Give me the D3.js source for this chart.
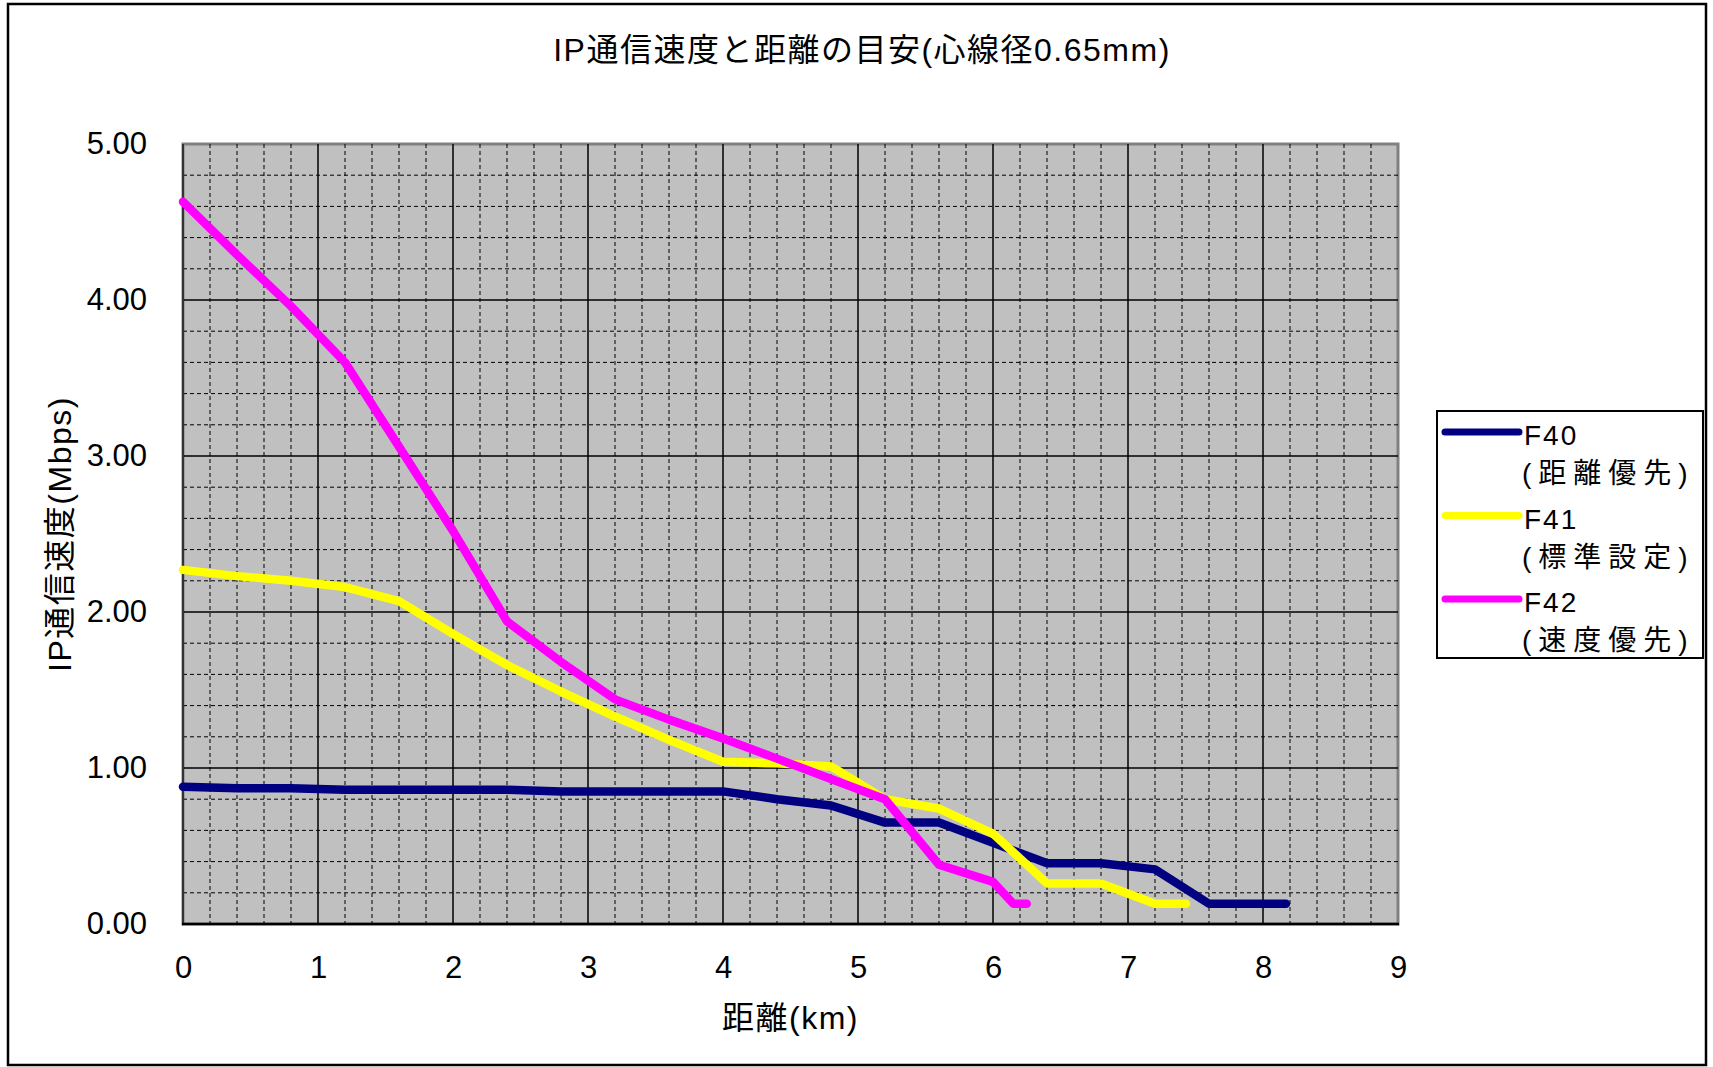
<!DOCTYPE html>
<html>
<head>
<meta charset="utf-8">
<script src="https://cdn.jsdelivr.net/npm/d3@7"></script>
<style>
  html, body { margin: 0; padding: 0; background: #fff; }
  svg { display: block; }
  text { font-family: "Liberation Sans", "Noto Sans CJK JP", sans-serif; fill: #000; }
</style>
</head>
<body>
<svg id="chart" width="1713" height="1067"></svg>
<script>
// ---- data ----
const chartTitle = "IP通信速度と距離の目安(心線径0.65mm)";
const xTitle = "距離(km)";
const yTitle = "IP通信速度(Mbps)";
const xTicks = [0, 1, 2, 3, 4, 5, 6, 7, 8, 9];
const yTicks = [0, 1, 2, 3, 4, 5];

const seriesNames = ["F40", "F41", "F42"];
const seriesSub = ["(距離優先)", "(標準設定)", "(速度優先)"];
const seriesColors = ["#000080", "#FFFF00", "#FF00FF"];

const f40Km = [0, 0.4, 0.8, 1.2, 1.6, 2.0, 2.4, 2.8, 3.2, 3.6, 4.0, 4.4, 4.8, 5.2, 5.6, 6.0, 6.4, 6.8, 7.2, 7.6, 8.17];
const f40Mbps = [0.88, 0.87, 0.87, 0.86, 0.86, 0.86, 0.86, 0.85, 0.85, 0.85, 0.85, 0.80, 0.76, 0.65, 0.65, 0.52, 0.39, 0.39, 0.35, 0.13, 0.13];

const f41Km = [0, 0.4, 0.8, 1.2, 1.6, 2.0, 2.4, 2.8, 3.2, 3.6, 4.0, 4.4, 4.8, 5.2, 5.6, 6.0, 6.4, 6.8, 7.2, 7.43];
const f41Mbps = [2.27, 2.23, 2.20, 2.16, 2.07, 1.86, 1.66, 1.49, 1.33, 1.18, 1.04, 1.03, 1.01, 0.80, 0.74, 0.58, 0.26, 0.26, 0.13, 0.13];

const f42Km = [0, 0.4, 0.8, 1.2, 1.6, 2.0, 2.4, 2.8, 3.2, 3.6, 4.0, 4.4, 4.8, 5.2, 5.6, 6.0, 6.15, 6.25];
const f42Mbps = [4.63, 4.29, 3.96, 3.60, 3.06, 2.52, 1.94, 1.68, 1.44, 1.31, 1.19, 1.06, 0.93, 0.80, 0.38, 0.27, 0.13, 0.13];

const seriesKm = [f40Km, f41Km, f42Km];
const seriesMbps = [f40Mbps, f41Mbps, f42Mbps];

// ---- layout ----
const svg = d3.select("#chart");
const plot = { left: 183, right: 1398, top: 144, bottom: 924 };

const x = d3.scaleLinear().domain([0, 9]).range([plot.left, plot.right]);
const y = d3.scaleLinear().domain([0, 5]).range([plot.bottom, plot.top]);

// outer border
svg.append("rect").attr("x", 8).attr("y", 4).attr("width", 1698).attr("height", 1061)
  .attr("fill", "#fff").attr("stroke", "#000").attr("stroke-width", 2.5);

// plot background
svg.append("rect").attr("x", plot.left).attr("y", plot.top)
  .attr("width", plot.right - plot.left).attr("height", plot.bottom - plot.top)
  .attr("fill", "#C0C0C0").attr("stroke", "#808080").attr("stroke-width", 3);

// minor grid
const minorX = d3.range(0, 9.001, 0.2).filter(v => Math.abs(v - Math.round(v)) > 1e-6);
const minorY = d3.range(0, 5.001, 0.2).filter(v => Math.abs(v - Math.round(v)) > 1e-6);
const grid = svg.append("g");
grid.selectAll("line.mx").data(minorX).enter().append("line")
  .attr("x1", d => x(d)).attr("x2", d => x(d)).attr("y1", plot.top).attr("y2", plot.bottom)
  .attr("stroke", "#000").attr("stroke-width", 1).attr("stroke-dasharray", "4,3");
grid.selectAll("line.my").data(minorY).enter().append("line")
  .attr("y1", d => y(d)).attr("y2", d => y(d)).attr("x1", plot.left).attr("x2", plot.right)
  .attr("stroke", "#000").attr("stroke-width", 1).attr("stroke-dasharray", "4,3");
// major grid
grid.selectAll("line.Mx").data(xTicks.slice(1, -1)).enter().append("line")
  .attr("x1", d => x(d)).attr("x2", d => x(d)).attr("y1", plot.top).attr("y2", plot.bottom)
  .attr("stroke", "#000").attr("stroke-width", 1.5);
grid.selectAll("line.My").data(yTicks.slice(1, -1)).enter().append("line")
  .attr("y1", d => y(d)).attr("y2", d => y(d)).attr("x1", plot.left).attr("x2", plot.right)
  .attr("stroke", "#000").attr("stroke-width", 1.5);

// axis lines
svg.append("line").attr("x1", plot.left).attr("x2", plot.left).attr("y1", plot.top).attr("y2", plot.bottom)
  .attr("stroke", "#333").attr("stroke-width", 2);
svg.append("line").attr("x1", plot.left - 1).attr("x2", plot.right + 1).attr("y1", plot.bottom).attr("y2", plot.bottom)
  .attr("stroke", "#000").attr("stroke-width", 2.5);

// axes
const xAxis = d3.axisBottom(x).tickValues(xTicks).tickFormat(d3.format("d")).tickSize(0).tickPadding(32);
const gx = svg.append("g").attr("transform", `translate(0,${plot.bottom})`).call(xAxis);
gx.select(".domain").remove();
gx.selectAll("text").style("font-size", "31px").attr("fill", "#000");

const yAxis = d3.axisLeft(y).tickValues(yTicks).tickFormat(d3.format(".2f")).tickSize(0).tickPadding(36);
const gy = svg.append("g").attr("transform", `translate(${plot.left},0)`).call(yAxis);
gy.select(".domain").remove();
gy.selectAll("text").style("font-size", "31px").attr("fill", "#000");

// lines
const line = d3.line().x(d => x(d[0])).y(d => y(d[1]));
seriesKm.forEach((kms, i) => {
  const pts = kms.map((k, j) => [k, seriesMbps[i][j]]);
  svg.append("path").datum(pts).attr("d", line)
    .attr("fill", "none").attr("stroke", seriesColors[i]).attr("stroke-width", 8.5)
    .attr("stroke-linejoin", "round").attr("stroke-linecap", "round");
});

// titles
svg.append("text").attr("x", 862).attr("y", 61).attr("text-anchor", "middle")
  .style("font-size", "32px").style("letter-spacing", "1.5px").text(chartTitle);
svg.append("text").attr("x", (plot.left + plot.right) / 2).attr("y", 1029).attr("text-anchor", "middle")
  .style("font-size", "32px").style("letter-spacing", "1.5px").text(xTitle);
svg.append("text").attr("transform", `translate(71,${(plot.top + plot.bottom) / 2}) rotate(-90)`)
  .attr("text-anchor", "middle").style("font-size", "32px").style("letter-spacing", "1.5px").text(yTitle);

// legend
const lg = svg.append("g");
lg.append("rect").attr("x", 1437).attr("y", 411).attr("width", 266).attr("height", 247)
  .attr("fill", "#fff").attr("stroke", "#000").attr("stroke-width", 2);
seriesNames.forEach((name, i) => {
  const base = 445 + i * 83.5;
  lg.append("line").attr("x1", 1445).attr("x2", 1519).attr("y1", base - 13).attr("y2", base - 13)
    .attr("stroke", seriesColors[i]).attr("stroke-width", 7).attr("stroke-linecap", "round");
  lg.append("text").attr("x", 1524).attr("y", base).style("font-size", "28px")
    .style("letter-spacing", "2px").text(name);
  lg.append("text").attr("x", 1522).attr("y", base + 38).style("font-size", "28px")
    .style("letter-spacing", "7px").text(seriesSub[i]);
});
</script>
</body>
</html>
